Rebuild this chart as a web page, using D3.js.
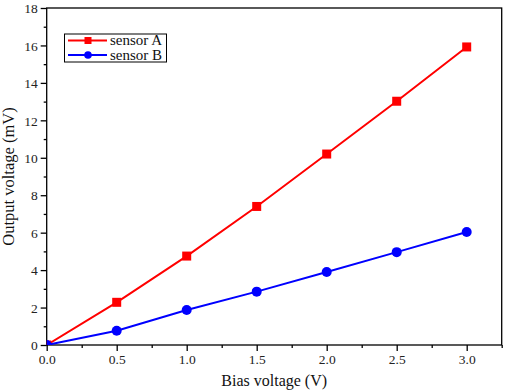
<!DOCTYPE html>
<html><head><meta charset="utf-8">
<script src="https://cdn.jsdelivr.net/npm/d3@7"></script>
<style>body{margin:0;background:#fff}svg{display:block}
text{font-family:"Liberation Serif","DejaVu Serif",serif}</style>
</head><body>
<script>
const biasVoltage = [0, 0.5, 1.0, 1.5, 2.0, 2.5, 3.0];
const sensorA = [0, 2.28, 4.75, 7.4, 10.2, 13.02, 15.92];
const sensorB = [0, 0.76, 1.87, 2.85, 3.9, 4.96, 6.04];
const xTicks = [0, 0.5, 1.0, 1.5, 2.0, 2.5, 3.0];
const yTicks = [0, 2, 4, 6, 8, 10, 12, 14, 16, 18];
const seriesNames = ["sensor A", "sensor B"];
const seriesColors = ["#ff0000", "#0000ff"];

const W = 507, H = 392;
const m = {l: 46.7, r: 5.3, t: 8, b: 47};
const svg = d3.select("body").append("svg").attr("width", W).attr("height", H);
const x = d3.scaleLinear().domain([0, 3.25]).range([m.l, W - m.r]);
const y = d3.scaleLinear().domain([0, 18]).range([H - m.b, m.t]);

svg.append("defs").append("clipPath").attr("id", "clip")
  .append("rect").attr("x", m.l).attr("y", m.t).attr("width", x.range()[1] - m.l).attr("height", y(0) - m.t);

// axes
const xAxis = svg.append("g").attr("transform", `translate(0,${y(0)})`)
  .call(d3.axisBottom(x).tickValues(xTicks).tickFormat(d3.format(".1f")).tickSizeOuter(0).tickSize(6).tickPadding(3));
const xMinor = svg.append("g").attr("transform", `translate(0,${y(0)})`)
  .call(d3.axisBottom(x).tickValues(d3.range(0.25, 3.3, 0.5)).tickFormat("").tickSizeOuter(0).tickSize(3));
const yAxis = svg.append("g").attr("transform", `translate(${m.l},0)`)
  .call(d3.axisLeft(y).tickValues(yTicks).tickFormat(d3.format("d")).tickSizeOuter(0).tickSize(6).tickPadding(3));
const yMinor = svg.append("g").attr("transform", `translate(${m.l},0)`)
  .call(d3.axisLeft(y).tickValues(d3.range(1, 18, 2)).tickFormat("").tickSizeOuter(0).tickSize(3));
[xAxis, xMinor, yAxis, yMinor].forEach(g => {
  g.attr("font-family", null).attr("font-size", null);
  g.select(".domain").remove();
  g.selectAll("line").attr("stroke", "#000").attr("stroke-width", 1.3);
  g.selectAll("text").style("font-family", '"Liberation Serif","DejaVu Serif",serif').style("font-size", "13.5px").attr("fill", "#222");
});
yAxis.selectAll("text").attr("dy", "0.35em");

// frame
svg.append("rect").attr("x", m.l).attr("y", m.t).attr("width", x.range()[1] - m.l).attr("height", y(0) - m.t)
  .attr("fill", "none").attr("stroke", "#000").attr("stroke-width", 1.3);

// series
const data = [sensorA, sensorB];
const plot = svg.append("g").attr("clip-path", "url(#clip)");
const line = d3.line().x((d, i) => x(biasVoltage[i])).y(d => y(d));
data.forEach((s, k) => {
  plot.append("path").datum(s).attr("d", line).attr("fill", "none")
    .attr("stroke", seriesColors[k]).attr("stroke-width", 2);
  if (k === 0) {
    plot.selectAll(null).data(s).enter().append("rect")
      .attr("x", (d, i) => x(biasVoltage[i]) - 4.5).attr("y", d => y(d) - 4.5)
      .attr("width", 9).attr("height", 9).attr("fill", seriesColors[k]);
  } else {
    plot.selectAll(null).data(s).enter().append("circle")
      .attr("cx", (d, i) => x(biasVoltage[i])).attr("cy", d => y(d))
      .attr("r", 5).attr("fill", seriesColors[k]);
  }
});

// legend
const lg = svg.append("g");
lg.append("rect").attr("x", 64.5).attr("y", 34).attr("width", 102).attr("height", 28)
  .attr("fill", "#fff").attr("stroke", "#000").attr("stroke-width", 1);
seriesNames.forEach((n, k) => {
  const yy = 40.5 + k * 14.5;
  lg.append("line").attr("x1", 68).attr("x2", 107).attr("y1", yy).attr("y2", yy)
    .attr("stroke", seriesColors[k]).attr("stroke-width", 2);
  if (k === 0) lg.append("rect").attr("x", 84.5).attr("y", yy - 3.5).attr("width", 7).attr("height", 7).attr("fill", seriesColors[k]);
  else lg.append("circle").attr("cx", 88).attr("cy", yy).attr("r", 3.8).attr("fill", seriesColors[k]);
  lg.append("text").attr("x", 110).attr("y", yy).attr("dy", "0.33em")
    .style("font-size", "15px").attr("fill", "#111").text(n);
});

// axis titles
svg.append("text").attr("x", (m.l + x.range()[1]) / 2).attr("y", 386).attr("text-anchor", "middle")
  .style("font-size", "16px").attr("fill", "#111").text("Bias voltage (V)");
svg.append("text").attr("transform", `translate(14,${(m.t + y(0)) / 2}) rotate(-90)`).attr("text-anchor", "middle")
  .style("font-size", "16.5px").attr("fill", "#111").text("Output voltage (mV)");
</script>
</body></html>
